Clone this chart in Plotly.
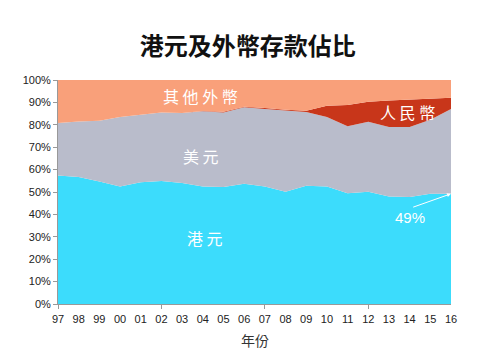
import plotly.graph_objects as go

years = ["97","98","99","00","01","02","03","04","05","06","07","08","09","10","11","12","13","14","15","16"]
hkd = [57.4,56.7,54.7,52.5,54.3,54.9,54.0,52.4,52.2,53.7,52.5,50.1,52.8,52.5,49.4,50.1,48.0,47.8,49.2,49.2]
usd = [23.4,24.8,27.1,31.0,30.2,30.6,31.3,33.6,33.3,34.1,34.5,36.2,32.9,31.0,29.9,31.3,31.0,31.2,33.1,37.8]
rmb = [0,0,0,0,0,0,0,0.2,0.3,0.3,0.5,0.4,0.6,5.0,9.5,8.9,11.9,12.4,9.3,5.1]
other = [19.2,18.5,18.2,16.5,15.5,14.5,14.7,13.8,14.2,11.9,12.5,13.3,13.7,11.5,11.2,9.7,9.1,8.6,8.4,7.9]

x = list(range(len(years)))
series = [
    ("港元", hkd, "#3CDCFC"),
    ("美元", usd, "#B9BCCB"),
    ("人民幣", rmb, "#C8361A"),
    ("其他外幣", other, "#F9A07A"),
]

fig = go.Figure()
for name, vals, col in series:
    fig.add_trace(go.Scatter(
        x=x, y=vals, name=name, stackgroup="one", mode="lines",
        line=dict(width=0, color=col), fillcolor=col, showlegend=False,
    ))

cjk = "Noto Sans CJK TC"
lab = dict(family=cjk, size=16, color="white")
fig.add_annotation(x=6.9, y=92.8, text="其 他 外 幣", showarrow=False, font=lab)
fig.add_annotation(x=6.9, y=66, text="美 元", showarrow=False, font=lab)
fig.add_annotation(x=7.1, y=29.5, text="港 元", showarrow=False, font=lab)
fig.add_annotation(x=16.9, y=85.5, text="人 民 幣", showarrow=False, font=lab)
fig.add_annotation(x=19, y=hkd[-1], ax=17.1, ay=43, axref="x", ayref="y",
                   text="", showarrow=True, arrowhead=2, arrowsize=0.8,
                   arrowwidth=1, arrowcolor="white")
fig.add_annotation(x=17.0, y=38.5, text="49%", showarrow=False,
                   font=dict(family="Liberation Sans, Arial", size=15, color="white"))
fig.add_annotation(x=0.5, y=-0.105, xref="paper", yref="paper", yanchor="top",
                   text="年份", showarrow=False,
                   font=dict(family=cjk, size=14, color="#333"))

fig.update_layout(
    width=470, height=350,
    margin=dict(l=50, r=27, t=72, b=54),
    paper_bgcolor="white", plot_bgcolor="white",
    title=dict(text="<b>港元及外幣存款佔比</b>", x=0.51, xanchor="center", y=0.89, yanchor="middle",
               font=dict(family=cjk, size=24, color="#111")),
    xaxis=dict(
        range=[0, 19], tickmode="array", tickvals=x, ticktext=years,
        ticks="outside", ticklen=5, tickcolor="rgba(0,0,0,0)", automargin=False,
        showgrid=False, zeroline=False,
        showline=True, linecolor="#999", linewidth=1,
        tickfont=dict(family="Liberation Sans, Arial", size=11, color="#222"),
        minor=dict(tickmode="array", tickvals=[0, 5, 10, 15], ticks="outside",
                   ticklen=4, tickcolor="#999", showgrid=False),
    ),
    yaxis=dict(
        range=[0, 100], tickvals=list(range(0, 101, 10)),
        ticktext=[f"{v}%" for v in range(0, 101, 10)],
        ticks="outside", ticklen=4, tickcolor="#999", automargin=False,
        showgrid=False, zeroline=False, showline=True, linecolor="#999", linewidth=1,
        tickfont=dict(family="Liberation Sans, Arial", size=11, color="#222"),
    ),
)

fig.write_html("out.html")
